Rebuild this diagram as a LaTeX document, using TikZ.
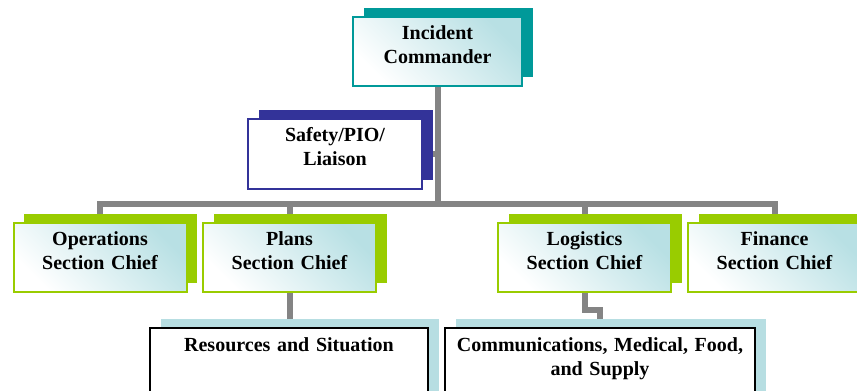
\documentclass[tikz,border=0pt]{standalone}
\usepackage{fontspec}
\setmainfont{Liberation Serif}
\usetikzlibrary{shadows,backgrounds}
\definecolor{icteal}{RGB}{0,153,153}
\definecolor{pionavy}{RGB}{51,51,153}
\definecolor{secgreen}{RGB}{153,204,0}
\definecolor{unitblue}{RGB}{183,222,226}
\definecolor{fadeblue}{RGB}{184,224,228}
\definecolor{linegray}{RGB}{132,132,132}
\tikzset{
  chartbox/.style={inner sep=0pt, align=center, line width=2pt,
    font=\fontsize{20}{24}\selectfont\bfseries,
    text height=22pt, text depth=47pt},
  backbox/.style={drop shadow={shadow xshift=10.5pt, shadow yshift=9pt,
    opacity=1, fill=#1}},
  fadefill/.style={top color=fadeblue, bottom color=white, shading angle=-45},
  conn/.style={draw=linegray, line width=6pt}
}
\begin{document}
\begin{tikzpicture}[x=1pt,y=-1pt]
  \useasboundingbox (0,0) rectangle (857,391);
  % top of the chart
  \node[chartbox, draw=icteal, fadefill, backbox=icteal, text width=169pt]
    (ic) at (437.5,51.5) {Incident\\Commander};
  \node[chartbox, draw=pionavy, fill=white, backbox=pionavy, text width=174pt,
    text depth=48pt] (safety) at (335,154) {Safety/PIO/\\Liaison};
  % section chiefs
  \foreach \name/\x/\label in {ops/100/Operations, plans/289.5/Plans,
      logi/584.5/Logistics, fin/774.5/Finance}{
    \node[chartbox, draw=secgreen, fadefill, backbox=secgreen, text width=173pt]
      (\name) at (\x,257.5) {\label\\Section Chief};
  };
  % units
  \node[chartbox, draw=black, fill=white, backbox=unitblue, anchor=north,
    text width=278pt, text height=23pt, text depth=60pt]
    (res) at (289,327) {Resources and Situation};
  \node[chartbox, draw=black, fill=white, backbox=unitblue, anchor=north,
    text width=310pt, text height=23pt, text depth=60pt]
    (comms) at (600,327) {Communications, Medical, Food,\\and Supply};
  \begin{scope}[on background layer]
    \fill[white] (0,0) rectangle (857,391);
    \coordinate (bar) at (437.5,204);
    \draw[conn] (ic.south) -- (bar);
    \draw[conn] (safety.east) -- (safety.east -| ic.south);
    \foreach \name in {ops,plans,logi,fin}
      \draw[conn] (\name.north) |- (bar);
    \draw[conn] (plans.south) -- (plans.south |- res.north);
    \draw[conn] (logi.south) -- ++(0,17) -| (comms.north);
  \end{scope}
\end{tikzpicture}
\end{document}
